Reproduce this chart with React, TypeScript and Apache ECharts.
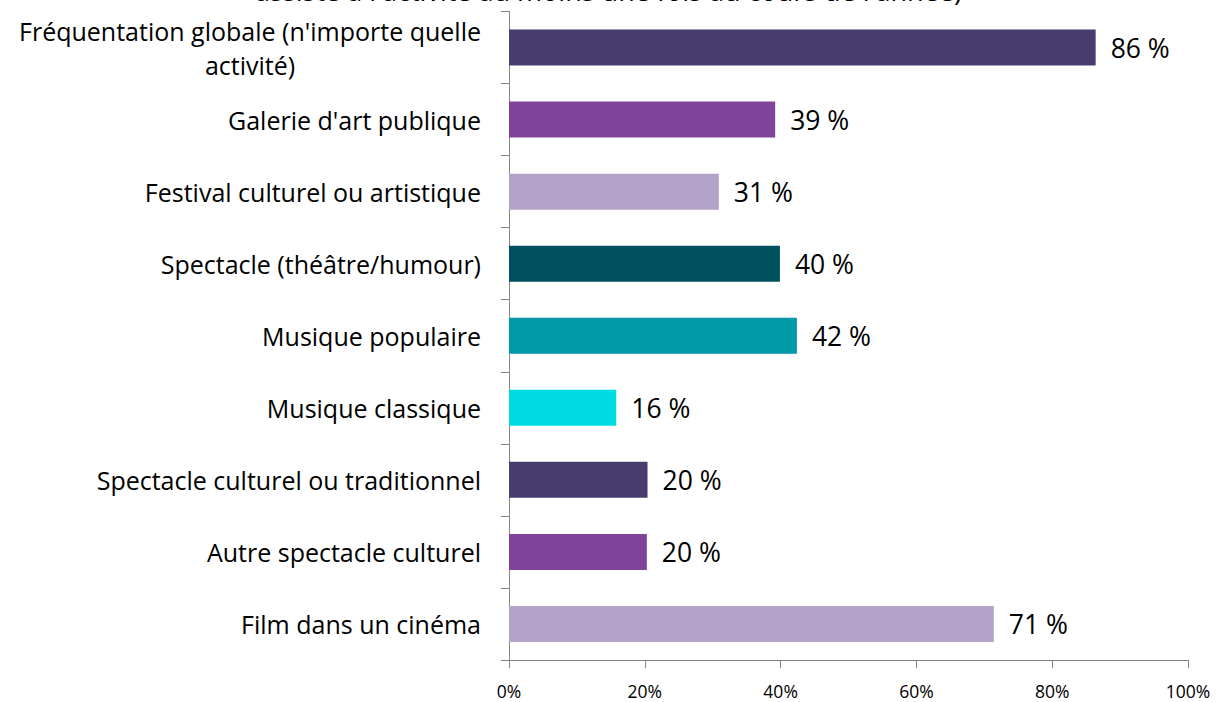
import React, { useEffect, useRef } from "react";
import * as echarts from "echarts";

const categories = [
  "Fréquentation globale (n'importe quelle activité)",
  "Galerie d'art publique",
  "Festival culturel ou artistique",
  "Spectacle (théâtre/humour)",
  "Musique populaire",
  "Musique classique",
  "Spectacle culturel ou traditionnel",
  "Autre spectacle culturel",
  "Film dans un cinéma",
];
const values = [86.4, 39.2, 30.9, 39.9, 42.4, 15.8, 20.4, 20.3, 71.4];
const colors = ["#473C6B", "#7E4499", "#B3A3C9", "#00515F", "#0099A8", "#00DCE3", "#473C6B", "#7E4499", "#B3A3C9"];
const titleText = "assisté à l'activité au moins une fois au cours de l'année)";
const xTicks = [0, 20, 40, 60, 80, 100];

const FONT = "'Open Sans', 'Noto Sans', sans-serif";

export default function App() {
  const ref = useRef<HTMLDivElement>(null);
  useEffect(() => {
    const chart = echarts.init(ref.current!, null, { renderer: "svg" });
    const cats = [...categories].reverse();
    const vals = [...values].reverse();
    const cols = [...colors].reverse();
    chart.setOption({
      animation: false,
      backgroundColor: "#fff",
      graphic: [
        {
          type: "text",
          left: "center",
          top: -23,
          style: { text: titleText, font: `27px ${FONT}`, fill: "#000" },
        },
      ],
      grid: { left: 509, right: 29, top: 11.5, bottom: 42, containLabel: false },
      xAxis: {
        type: "value",
        min: xTicks[0],
        max: xTicks[xTicks.length - 1],
        interval: 20,
        splitLine: { show: false },
        axisLine: { show: true, lineStyle: { color: "#868686", width: 1 } },
        axisTick: { show: true, length: 8, lineStyle: { color: "#868686" } },
        axisLabel: {
          formatter: (v: number) => `${v}%`,
          color: "#000",
          fontFamily: FONT,
          fontSize: 17.5,
          margin: 22,
        },
      },
      yAxis: {
        type: "category",
        data: cats,
        axisLine: { show: true, lineStyle: { color: "#868686", width: 1 } },
        axisTick: { show: true, length: 8, lineStyle: { color: "#868686" } },
        axisLabel: {
          color: "#000",
          fontFamily: FONT,
          fontSize: 25,
          margin: 28,
          formatter: (v: string) => {
            if (v.startsWith("Fréquentation")) {
              return "{c|Fréquentation globale (n'importe quelle}\n{c|activité)}";
            }
            return v;
          },
          rich: {
            c: { align: "center", fontFamily: FONT, fontSize: 25, color: "#000", lineHeight: 34 },
          },
        },
      },
      series: [
        {
          type: "bar",
          data: vals.map((v, i) => ({ value: v, itemStyle: { color: cols[i] } })),
          barWidth: 36,
          label: {
            show: true,
            position: "right",
            distance: 15,
            formatter: (p: any) => `${Math.round(p.value)} %`,
            color: "#000",
            fontFamily: FONT,
            fontSize: 26.5,
          },
        },
      ],
    });
    return () => chart.dispose();
  }, []);
  return <div ref={ref} style={{ position: "fixed", left: 0, top: 0, width: 1217, height: 702 }} />;
}
